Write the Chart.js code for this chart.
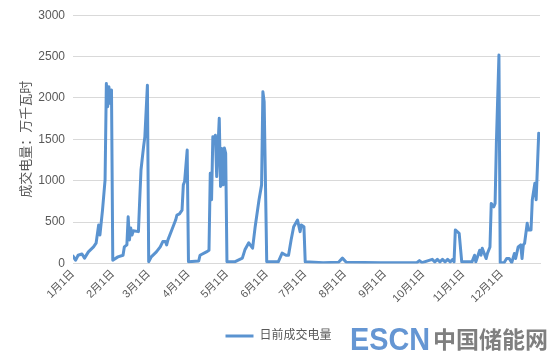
<!DOCTYPE html>
<html>
<head>
<meta charset="utf-8">
<script src="https://cdn.jsdelivr.net/npm/chart.js@4.4.1/dist/chart.umd.min.js"></script>
<style>
html,body{margin:0;padding:0;background:#ffffff;}
#wrap{position:relative;width:556px;height:358px;overflow:hidden;background:#fff;}
#c{position:absolute;left:0;top:0;}
.escn{position:absolute;left:350px;top:323px;font-family:'Liberation Sans',Arial,sans-serif;font-weight:bold;font-size:32px;line-height:32px;color:#6596d3;transform:scaleX(0.9);transform-origin:left top;white-space:nowrap;}
.cnwm{position:absolute;left:433px;top:324px;font-family:'Noto Sans CJK SC',sans-serif;font-weight:bold;font-size:23px;line-height:28px;color:#7f7f7f;white-space:nowrap;}
</style>
</head>
<body>
<div id="wrap">
<canvas id="c" width="556" height="358"></canvas>
<span class="escn">ESCN</span>
<span class="cnwm">中国储能网</span>
</div>
<script>
// ---- data ----
const seriesName = '日前成交电量';
const yAxisTitle = '成交电量：万千瓦时';
const monthStartDays = [0, 31, 59, 90, 120, 151, 181, 212, 243, 273, 304, 334];
const monthLabels = ['1月1日','2月1日','3月1日','4月1日','5月1日','6月1日','7月1日','8月1日','9月1日','10月1日','11月1日','12月1日'];
const yTickValues = [0, 500, 1000, 1500, 2000, 2500, 3000];
// day of year (0 = 1月1日) and volume
const dayIndex = [
  0,2,4,7,9,12,16,18,20,21,23,25,26,27,28,29,30,31,
  35,39,40,42,43,44,45,46,47,51,52,53,55,56,58,59,
  61,65,68,70,72,73,74,77,80,81,83,85,86,87,89,90,
  98,99,104,106,107,108,109,110,111,112,114,115,116,117,118,119,120,
  126,132,134,137,140,142,145,147,148,149,151,
  160,163,166,168,170,172,175,177,178,180,181,
  195,207,210,213,240,268,270,272,
  280,282,284,286,288,290,292,294,296,297,298,301,303,
  311,313,314,317,318,319,322,323,325,326,328,329,330,332,333,
  336,338,340,342,344,345,347,349,350,351,352,354,355,357,358,360,361,363
];
const dailyVolume = [
  90,40,100,115,65,140,200,245,465,345,645,1010,2175,1895,2135,1935,2095,40,
  80,100,200,225,565,285,430,345,395,385,770,1130,1410,1530,2155,20,
  80,140,200,265,265,225,285,405,525,585,600,645,950,990,1370,20,
  30,100,140,160,1090,770,1530,1490,1550,1050,1755,930,1390,950,1395,1330,20,
  20,65,165,250,185,445,770,950,2075,1955,20,
  20,125,100,100,285,445,525,385,465,445,20,
  10,15,65,15,10,10,35,10,
  50,20,50,20,50,20,50,20,50,20,405,365,20,
  20,100,20,160,100,185,60,120,200,725,685,725,1450,2520,10,
  10,60,60,10,120,60,200,225,60,225,245,485,405,405,770,970,770,1575
];

const points = dayIndex.map((d, i) => ({ x: d, y: dailyVolume[i] }));

const txtColor = '#595959';
const fam = "'Liberation Sans', Arial, 'Noto Sans CJK SC', sans-serif";

new Chart(document.getElementById('c'), {
  type: 'line',
  data: {
    datasets: [{
      label: seriesName,
      data: points,
      borderColor: '#5a93d0',
      backgroundColor: '#5a93d0',
      borderWidth: 3,
      pointRadius: 0,
      pointStyle: 'line',
      tension: 0,
      borderJoinStyle: 'round',
      borderCapStyle: 'round',
      fill: false
    }]
  },
  options: {
    responsive: false,
    animation: false,
    devicePixelRatio: 1,
    layout: { padding: { left: 17, right: 16, top: 8, bottom: 6 } },
    plugins: {
      tooltip: { enabled: false },
      legend: {
        position: 'bottom',
        labels: {
          usePointStyle: true,
          pointStyleWidth: 28,
          color: txtColor,
          padding: 10,
          font: { family: fam, size: 12 }
        }
      }
    },
    scales: {
      x: {
        type: 'linear',
        min: 0,
        max: 364,
        afterBuildTicks: (axis) => { axis.ticks = monthStartDays.map(v => ({ value: v })); },
        afterFit: (scale) => { scale.height = 56.5; },
        ticks: {
          autoSkip: false,
          minRotation: 45,
          maxRotation: 45,
          padding: 4,
          color: txtColor,
          font: { family: fam, size: 11 },
          callback: (v) => { const k = monthStartDays.indexOf(v); return k >= 0 ? monthLabels[k] : ''; }
        },
        grid: { display: false, drawTicks: false },
        border: { display: true, color: '#d9d9d9', width: 1 }
      },
      y: {
        min: 0,
        max: 3000,
        afterBuildTicks: (axis) => { axis.ticks = yTickValues.map(v => ({ value: v })); },
        afterFit: (scale) => { scale.width = 56; },
        ticks: {
          padding: 8,
          color: txtColor,
          font: { family: fam, size: 12 },
          callback: (v) => String(v)
        },
        grid: { color: '#d9d9d9', lineWidth: 1, drawTicks: false },
        border: { display: false },
        title: {
          display: true,
          text: yAxisTitle,
          color: txtColor,
          padding: { top: 0, bottom: 0 },
          font: { family: "'Noto Sans CJK SC', sans-serif", size: 13 }
        }
      }
    }
  }
});
</script>
</body>
</html>
